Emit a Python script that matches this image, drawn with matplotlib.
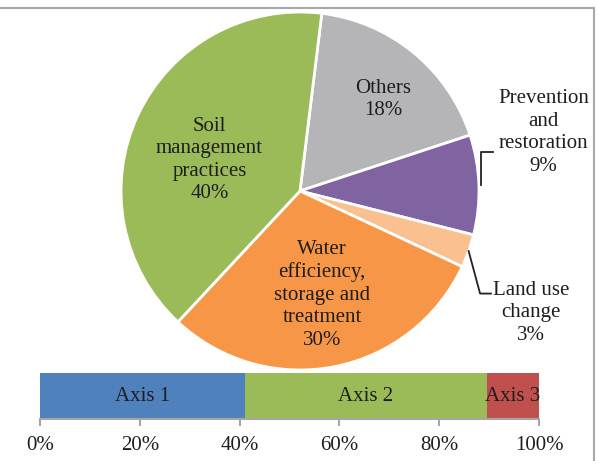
import numpy as np
import matplotlib.pyplot as plt
from matplotlib.lines import Line2D

plt.rcParams['font.family'] = ['Liberation Serif', 'DejaVu Serif']

# pie data (clockwise from the top)
labels = ['Others', 'Prevention\nand\nrestoration', 'Land use\nchange',
          'Water\nefficiency,\nstorage and\ntreatment', 'Soil\nmanagement\npractices']
shares = [18, 9, 3, 30, 40]
pie_colors = ['#B5B5B8', '#8064A2', '#FAC090', '#F79646', '#9BBB59']

# stacked bar data
axes_names = ['Axis 1', 'Axis 2', 'Axis 3']
axes_shares = [41, 48.5, 10.5]
bar_colors = ['#4F81BD', '#9BBB59', '#C0504D']
ticks = [0, 20, 40, 60, 80, 100]

W, H = 598, 461
fig = plt.figure(figsize=(W / 100, H / 100), dpi=100)
txt = '#1e1e1e'
fs = 15

# pie
cx, cy, r = 300, 191, 179
ax = fig.add_axes([(cx - r) / W, (H - cy - r) / H, 2 * r / W, 2 * r / H])
start = 83
wedges, _ = ax.pie(shares, colors=pie_colors, startangle=start, counterclock=False,
                   wedgeprops=dict(edgecolor='white', linewidth=2))
ax.set_xlim(-1, 1)
ax.set_ylim(-1, 1)
ax.set_aspect('equal')

# label positions (data coords of the pie)
pos = [(0.466, 0.511), (1.36, 0.326), (1.29, -0.68), (0.124, -0.579), (-0.506, 0.174)]
for lab, s, (x, y) in zip(labels, shares, pos):
    ax.text(x, y, lab + '\n%d%%' % s, ha='center', va='center', fontsize=fs,
            color=txt, linespacing=1.25, clip_on=False)

# leader lines for the small slices
cum = np.cumsum([0] + shares)
mid = [start - 3.6 * (cum[i] + shares[i] / 2) for i in range(len(shares))]
a = np.radians(mid[1])
x0, y0 = 1.01 * np.cos(a), 1.01 * np.sin(a)
ax.add_line(Line2D([x0, x0, 1.079], [y0, 0.219, 0.219], color='#222222', lw=1.3, clip_on=False))
a = np.radians(mid[2])
x0, y0 = 1.0 * np.cos(a), 1.0 * np.sin(a)
ax.add_line(Line2D([x0, 1.006, 1.067], [y0, -0.573, -0.573], color='#222222', lw=1.3, clip_on=False))

# stacked bar
bx = fig.add_axes([40 / W, (H - 419) / H, 499 / W, 46 / H])
left = 0
for name, v, c in zip(axes_names, axes_shares, bar_colors):
    bx.barh(0, v, left=left, height=1, color=c)
    bx.text(left + v / 2, 0, name, ha='center', va='center', fontsize=fs, color=txt)
    left += v
bx.set_xlim(0, 100)
bx.set_ylim(-0.5, 0.5)
bx.set_yticks([])
bx.set_xticks(ticks)
bx.set_xticklabels(['%d%%' % t for t in ticks], fontsize=fs, color=txt)
for s in ['top', 'left', 'right']:
    bx.spines[s].set_visible(False)
bx.spines['bottom'].set_color('#a6a6a6')
bx.spines['bottom'].set_linewidth(1.5)
bx.tick_params(axis='x', color='#a6a6a6', width=1.5, length=5, pad=7)

# frame of the chart area
fig.add_artist(Line2D([0, 594 / W], [1 - 8 / H, 1 - 8 / H], color='#a8a8a8', lw=1.5,
                      transform=fig.transFigure))
fig.add_artist(Line2D([594 / W, 594 / W], [0, 1 - 8 / H], color='#a8a8a8', lw=1.5,
                      transform=fig.transFigure))

fig.savefig('out.png', dpi=100)
